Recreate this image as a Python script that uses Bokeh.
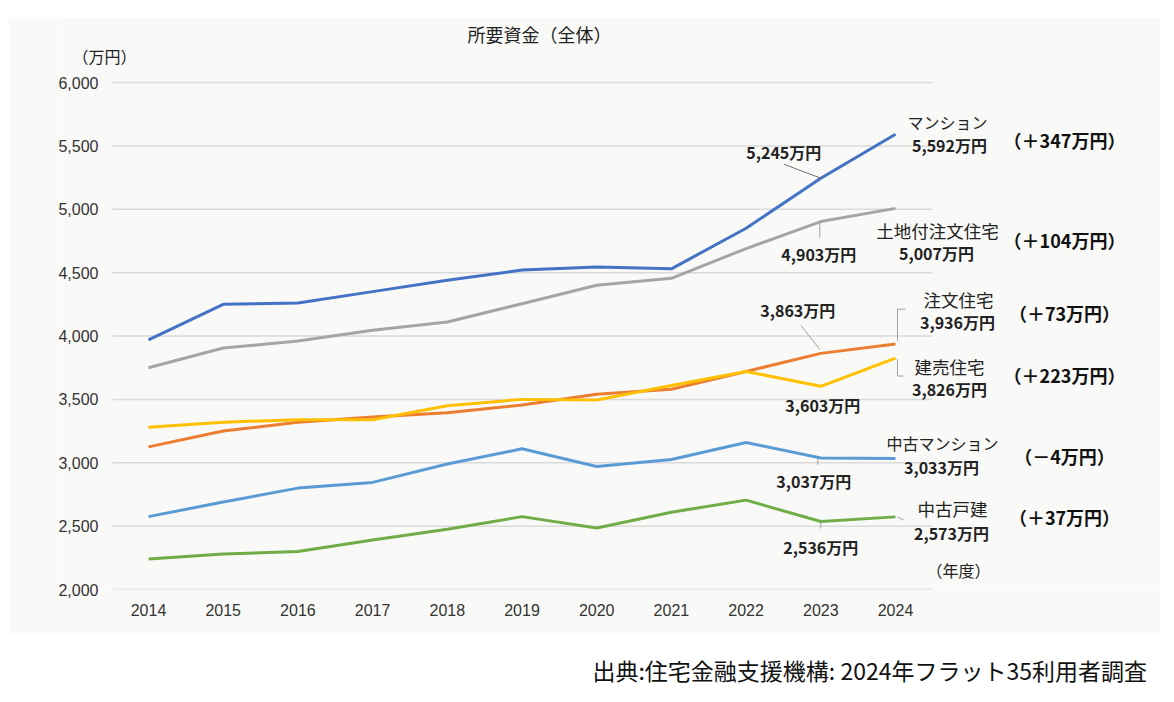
from bokeh.plotting import figure
from bokeh.models import Range1d, FixedTicker, NumeralTickFormatter, Label, Div
from bokeh.layouts import column
from bokeh.embed import file_html
from bokeh.resources import INLINE

# ---------------- data ----------------
years = [2014, 2015, 2016, 2017, 2018, 2019, 2020, 2021, 2022, 2023, 2024]
mansion = [3970, 4250, 4260, 4350, 4440, 4520, 4545, 4530, 4850, 5245, 5592]
land_custom = [3750, 3905, 3960, 4045, 4110, 4255, 4400, 4455, 4690, 4903, 5007]
custom_home = [3125, 3250, 3320, 3360, 3395, 3455, 3540, 3580, 3720, 3863, 3936]
ready_built = [3280, 3320, 3340, 3340, 3450, 3500, 3495, 3610, 3720, 3603, 3826]
used_mansion = [2575, 2690, 2800, 2845, 2990, 3110, 2970, 3025, 3160, 3037, 3033]
used_house = [2240, 2280, 2300, 2390, 2475, 2575, 2485, 2610, 2705, 2536, 2573]
series_names = ["マンション", "土地付注文住宅", "注文住宅", "建売住宅", "中古マンション", "中古戸建"]
y_ticks = [2000, 2500, 3000, 3500, 4000, 4500, 5000, 5500, 6000]
title_text = "所要資金（全体）"
y_unit = "（万円）"
x_unit = "（年度）"
source_text = "出典:住宅金融支援機構: 2024年フラット35利用者調査"

series = [mansion, land_custom, custom_home, ready_built, used_mansion, used_house]
colors = ["#4472C4", "#A5A5A5", "#ED7D31", "#FFC000", "#5B9BD5", "#70AD47"]

# ---------------- layout constants ----------------
FONT = "Noto Sans CJK JP"
BG = "#F9F9F7"
PX_YR = 74.7                 # pixels per year
PX_VAL = 507 / 4000.0        # pixels per 万円
FRAME_W = 1100
FRAME_H = 571
LEFT_PAD = 88                # pixels from frame left to first year

x_start = years[0] - LEFT_PAD / PX_YR
x_end = x_start + FRAME_W / PX_YR
y_end = y_ticks[0] + FRAME_H / PX_VAL

p = figure(width=1152, height=615, output_backend="svg", toolbar_location=None,
           x_range=Range1d(x_start, x_end), y_range=Range1d(y_ticks[0], y_end),
           min_border_left=52, min_border_right=0, min_border_top=0, min_border_bottom=44,
           background_fill_color=BG, border_fill_color=BG, outline_line_color=None)
p.margin = (18, 0, 0, 8)

p.xgrid.grid_line_color = None
p.ygrid.grid_line_color = None

for ax in (p.xaxis[0], p.yaxis[0]):
    ax.axis_line_color = None
    ax.major_tick_line_color = None
    ax.minor_tick_line_color = None
    ax.major_label_text_font = "Liberation Sans"
    ax.major_label_text_font_size = "16px"
    ax.major_label_text_color = "#333333"
p.xaxis.ticker = FixedTicker(ticks=years)
p.xaxis.major_label_standoff = 8
p.yaxis.ticker = FixedTicker(ticks=y_ticks)
p.yaxis.formatter = NumeralTickFormatter(format="0,0")
p.yaxis.major_label_standoff = -44

# horizontal gridlines over the plotting span only
g0 = years[0] - 36 / PX_YR
g1 = years[-1] + 37 / PX_YR
p.segment(x0=[g0] * len(y_ticks), y0=y_ticks, x1=[g1] * len(y_ticks), y1=y_ticks,
          line_color="#DADADA", line_width=1.5)

for vals, col in zip(series, colors):
    p.line(years, vals, line_color=col, line_width=3)


def lbl(x, y, text, dx, dy, size, bold=False, color="#222222"):
    p.add_layout(Label(x=x, y=y, x_offset=dx, y_offset=dy, text=text,
                       text_align="center", text_baseline="middle",
                       text_font=FONT, text_font_size=f"{size}px",
                       text_font_style="bold" if bold else "normal",
                       text_color=color))


def leader(x, y, pts, color="#A0A0A0"):
    xs = [x + dx / PX_YR for dx, dy in pts]
    ys = [y + dy / PX_VAL for dx, dy in pts]
    p.line(xs, ys, line_color=color, line_width=1)


def man(v):
    return f"{v:,}万円"


def has_kana(s):
    return any("\u30a0" <= ch <= "\u30ff" for ch in s)


y_last = years[-1]
y_prev = years[-2]

# per-series label placement (pixel offsets from the data points)
name_off = [(52, 12), (42, -22), (63, 45), (54, -8), (47, 16), (57, 8)]
last_off = [(54, -11), (41, -45), (62, 22), (54, -31), (46, -8), (56, -16)]
prev_off = [(-37, 26), (-2, -32), (-23, 43), (2, -19), (-7, -23), (0, -25)]
chg_dy = [-6, -32, 31, -17, 3, 0]

for i, vals in enumerate(series):
    nm = series_names[i]
    lbl(y_last, vals[-1], nm, name_off[i][0], name_off[i][1], 16 if has_kana(nm) else 17.5)
    lbl(y_last, vals[-1], man(vals[-1]), last_off[i][0], last_off[i][1], 16, bold=True)
    lbl(y_prev, vals[-2], man(vals[-2]), prev_off[i][0], prev_off[i][1], 16, bold=True)
    d = vals[-1] - vals[-2]
    sign = "＋" if d >= 0 else "－"
    lbl(y_last, vals[-1], f"（{sign}{abs(d)}万円）", 169, chg_dy[i], 18, bold=True, color="#111111")

# leader lines
leader(y_prev, mansion[-2], [(0, 0), (-37, 14)], "#707070")
leader(y_prev, land_custom[-2], [(-1, -1), (-1, -16)])
leader(y_prev, custom_home[-2], [(-1, 4), (-20, 28)])
leader(y_last, custom_home[-1], [(2, 3), (2, 35), (10, 35)])
leader(y_last, ready_built[-1], [(2, -1), (2, -18), (8, -18)])
leader(y_prev, used_mansion[-2], [(-3, -1), (-3, -7)])
leader(y_prev, used_house[-2], [(0, -1), (0, -7)])
leader(y_last, used_house[-1], [(2, 0), (8, -3)])

# titles / units
lbl(years[0], y_ticks[-1], y_unit, -44, 27, 16)
lbl(years[0], y_ticks[-1], title_text, 391, 49, 18)
lbl(y_last, y_ticks[0], x_unit, 63, 20, 16)

src = Div(text=f'<div style="width:1142px;text-align:right;font-family:\'{FONT}\';'
               f'font-size:23px;color:#111;margin-top:16px;white-space:nowrap">{source_text}</div>',
          width=1174, height=69)

layout = column(p, src)
open("out.html", "w").write(file_html(layout, INLINE))
